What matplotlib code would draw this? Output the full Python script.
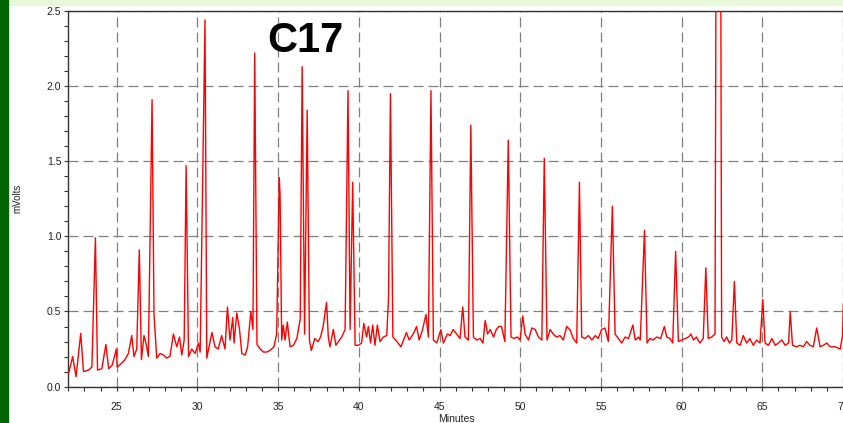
import matplotlib.pyplot as plt
from matplotlib.patches import Rectangle
from matplotlib.ticker import MultipleLocator, FormatStrFormatter
import numpy as np

plt.rcParams['font.family'] = ['Liberation Sans', 'DejaVu Sans']

# baseline trace (minutes, mVolts)
base_t = [22.02, 22.27, 22.48, 22.77, 22.94, 23.25, 23.46, 23.81, 24.08, 24.33, 24.50, 24.71, 24.98,
          25.03, 25.30, 25.51, 25.72, 25.93, 26.07, 26.24, 26.53, 26.69, 26.81, 26.96, 27.31, 27.48,
          27.69, 27.90, 28.09, 28.30, 28.51, 28.72, 28.89, 29.03, 29.18, 29.45, 29.65, 29.86, 30.06,
          30.17, 30.58, 30.75, 30.90, 31.09, 31.29, 31.50, 31.71, 31.86, 32.02, 32.19, 32.27, 32.44,
          32.61, 32.75, 32.96, 33.11, 33.31, 33.44, 33.69, 33.89, 34.09, 34.28, 34.49, 34.74, 34.91,
          35.22, 35.32, 35.43, 35.57, 35.74, 35.95, 36.16, 36.37, 36.64, 36.94, 37.06, 37.27, 37.48,
          37.63, 37.79, 38.00, 38.11, 38.21, 38.42, 38.58, 38.73, 38.94, 39.15, 39.46, 39.77, 39.98,
          40.17, 40.31, 40.48, 40.59, 40.73, 40.86, 41.00, 41.15, 41.31, 41.52, 41.73, 41.84, 42.11,
          42.36, 42.61, 42.77, 42.95, 43.12, 43.37, 43.58, 43.74, 43.95, 44.16, 44.31, 44.62, 44.83,
          45.08, 45.24, 45.49, 45.66, 45.85, 46.06, 46.27, 46.44, 46.58, 46.79, 47.10, 47.31, 47.52,
          47.69, 47.83, 47.98, 48.14, 48.35, 48.52, 48.67, 48.84, 49.05, 49.43, 49.61, 49.82, 49.99,
          50.16, 50.30, 50.51, 50.72, 50.93, 51.13, 51.34, 51.66, 51.86, 52.04, 52.25, 52.46, 52.67,
          52.88, 53.08, 53.29, 53.50, 53.81, 54.02, 54.23, 54.44, 54.65, 54.83, 55.04, 55.25, 55.46,
          55.88, 56.08, 56.29, 56.50, 56.71, 56.98, 57.13, 57.33, 57.44, 57.86, 58.03, 58.24, 58.45,
          58.70, 58.93, 59.08, 59.28, 59.45, 59.80, 60.01, 60.22, 60.43, 60.58, 60.74, 60.92, 61.13,
          61.34, 61.65, 61.86, 62.07, 62.48, 62.63, 62.80, 62.96, 63.11, 63.42, 63.63, 63.82, 64.03,
          64.23, 64.44, 64.65, 64.86, 65.17, 65.38, 65.59, 65.80, 66.00, 66.21, 66.42, 66.63, 66.87,
          67.12, 67.33, 67.54, 67.75, 67.95, 68.16, 68.58, 68.79, 69.00, 69.20, 69.52, 69.83, 69.97,
          70.02]
base_v = [0.088, 0.20, 0.066, 0.354, 0.10, 0.11, 0.13, 0.11, 0.12, 0.28, 0.12, 0.14, 0.25,
          0.13, 0.155, 0.18, 0.22, 0.34, 0.20, 0.25, 0.18, 0.34, 0.29, 0.20, 0.48, 0.19,
          0.22, 0.21, 0.19, 0.20, 0.35, 0.265, 0.33, 0.21, 0.31, 0.20, 0.25, 0.22, 0.29,
          0.23, 0.19, 0.28, 0.36, 0.265, 0.25, 0.34, 0.25, 0.53, 0.31, 0.46, 0.29, 0.49,
          0.38, 0.22, 0.21, 0.265, 0.50, 0.38, 0.28, 0.25, 0.23, 0.23, 0.24, 0.265, 0.35,
          0.31, 0.41, 0.31, 0.43, 0.265, 0.275, 0.32, 0.45, 0.35, 0.31, 0.24, 0.32, 0.30,
          0.33, 0.40, 0.56, 0.33, 0.265, 0.38, 0.275, 0.30, 0.33, 0.38, 0.38, 0.275, 0.275,
          0.29, 0.42, 0.33, 0.40, 0.29, 0.41, 0.275, 0.41, 0.30, 0.33, 0.34, 0.59, 0.33,
          0.30, 0.265, 0.31, 0.36, 0.31, 0.35, 0.40, 0.31, 0.38, 0.48, 0.33, 0.31, 0.29,
          0.38, 0.29, 0.35, 0.34, 0.38, 0.35, 0.32, 0.53, 0.33, 0.31, 0.33, 0.31, 0.32,
          0.29, 0.44, 0.35, 0.38, 0.33, 0.38, 0.40, 0.40, 0.30, 0.33, 0.32, 0.33, 0.31,
          0.47, 0.35, 0.31, 0.39, 0.38, 0.33, 0.31, 0.31, 0.38, 0.35, 0.33, 0.34, 0.31,
          0.40, 0.38, 0.32, 0.29, 0.33, 0.32, 0.34, 0.31, 0.34, 0.32, 0.38, 0.39, 0.30,
          0.35, 0.32, 0.29, 0.33, 0.32, 0.41, 0.31, 0.33, 0.31, 0.29, 0.32, 0.31, 0.33,
          0.32, 0.40, 0.33, 0.32, 0.29, 0.30, 0.31, 0.32, 0.33, 0.35, 0.31, 0.33, 0.29,
          0.32, 0.32, 0.33, 0.35, 0.33, 0.30, 0.33, 0.29, 0.31, 0.29, 0.275, 0.34, 0.29,
          0.32, 0.275, 0.31, 0.29, 0.29, 0.275, 0.32, 0.275, 0.29, 0.31, 0.275, 0.29, 0.275,
          0.265, 0.275, 0.265, 0.30, 0.275, 0.265, 0.265, 0.275, 0.29, 0.265, 0.265, 0.25, 0.34,
          0.55]

# peak apexes (minutes, mVolts); the 62 min peak runs off the top
peak_t = [23.68, 26.40, 27.19, 29.30, 30.47, 33.55, 35.07, 35.12, 36.49, 36.80, 39.33, 39.62,
          41.96, 44.47, 46.94, 49.26, 51.49, 53.67, 55.71, 57.70, 59.63, 61.50, 62.16, 62.40,
          63.27, 65.03, 66.73, 68.37]
peak_v = [0.99, 0.91, 1.91, 1.47, 2.44, 2.22, 1.39, 1.28, 2.13, 1.84, 1.97, 1.36,
          1.95, 1.97, 1.74, 1.64, 1.52, 1.36, 1.20, 1.04, 0.90, 0.79, 4.0, 4.0,
          0.70, 0.58, 0.50, 0.39]

t = np.array(base_t + peak_t)
v = np.array(base_v + peak_v)
order = np.argsort(t)
t, v = t[order], v[order]

fig = plt.figure(figsize=(8.43, 4.23), dpi=100)
ax = fig.add_axes([68.3 / 843, 1 - 386.6 / 423, 1 - 68.3 / 843, (386.6 - 11) / 423])

ax.plot(t, v, color='#ff0000', linewidth=1.0, zorder=3)

ax.set_xlim(22, 70)
ax.set_ylim(0, 2.5)
ax.xaxis.set_major_locator(MultipleLocator(5))
ax.xaxis.set_minor_locator(MultipleLocator(1))
ax.yaxis.set_major_locator(MultipleLocator(0.5))
ax.yaxis.set_minor_locator(MultipleLocator(0.1))
ax.yaxis.set_major_formatter(FormatStrFormatter('%.1f'))
ax.tick_params(which='both', direction='out', length=3, width=0.8, color='#333333',
               labelsize=7.5, labelcolor='#222222')
ax.tick_params(axis='x', pad=8)
ax.tick_params(axis='y', pad=2)

ax.grid(True, which='major', color='#808080', linestyle=(0, (8, 4)), linewidth=0.9, zorder=0)
ax.spines['right'].set_visible(False)
for s in ['left', 'bottom', 'top']:
    ax.spines[s].set_color('#333333')
    ax.spines[s].set_linewidth(1)

ax.text(36.70, 2.30, 'C17', fontsize=30, fontweight='bold', ha='center', va='center', zorder=4)

fig.text(456 / 843, 1 - 414 / 423, 'Minutes', fontsize=7.5, ha='center', va='top', color='#222222')
fig.text(17 / 843, 1 - 198 / 423, 'mVolts', fontsize=7, rotation=90, ha='center', va='center',
         color='#222222')

# coloured borders of the original screenshot
fig.patches.append(Rectangle((8 / 843, 1 - 5 / 423), 1, 5 / 423, transform=fig.transFigure,
                             color='#e6f9d8', zorder=0))
fig.patches.append(Rectangle((0, 0), 8 / 843, 1, transform=fig.transFigure,
                             color='#006400', zorder=0))

fig.savefig('out.png', dpi=100)
